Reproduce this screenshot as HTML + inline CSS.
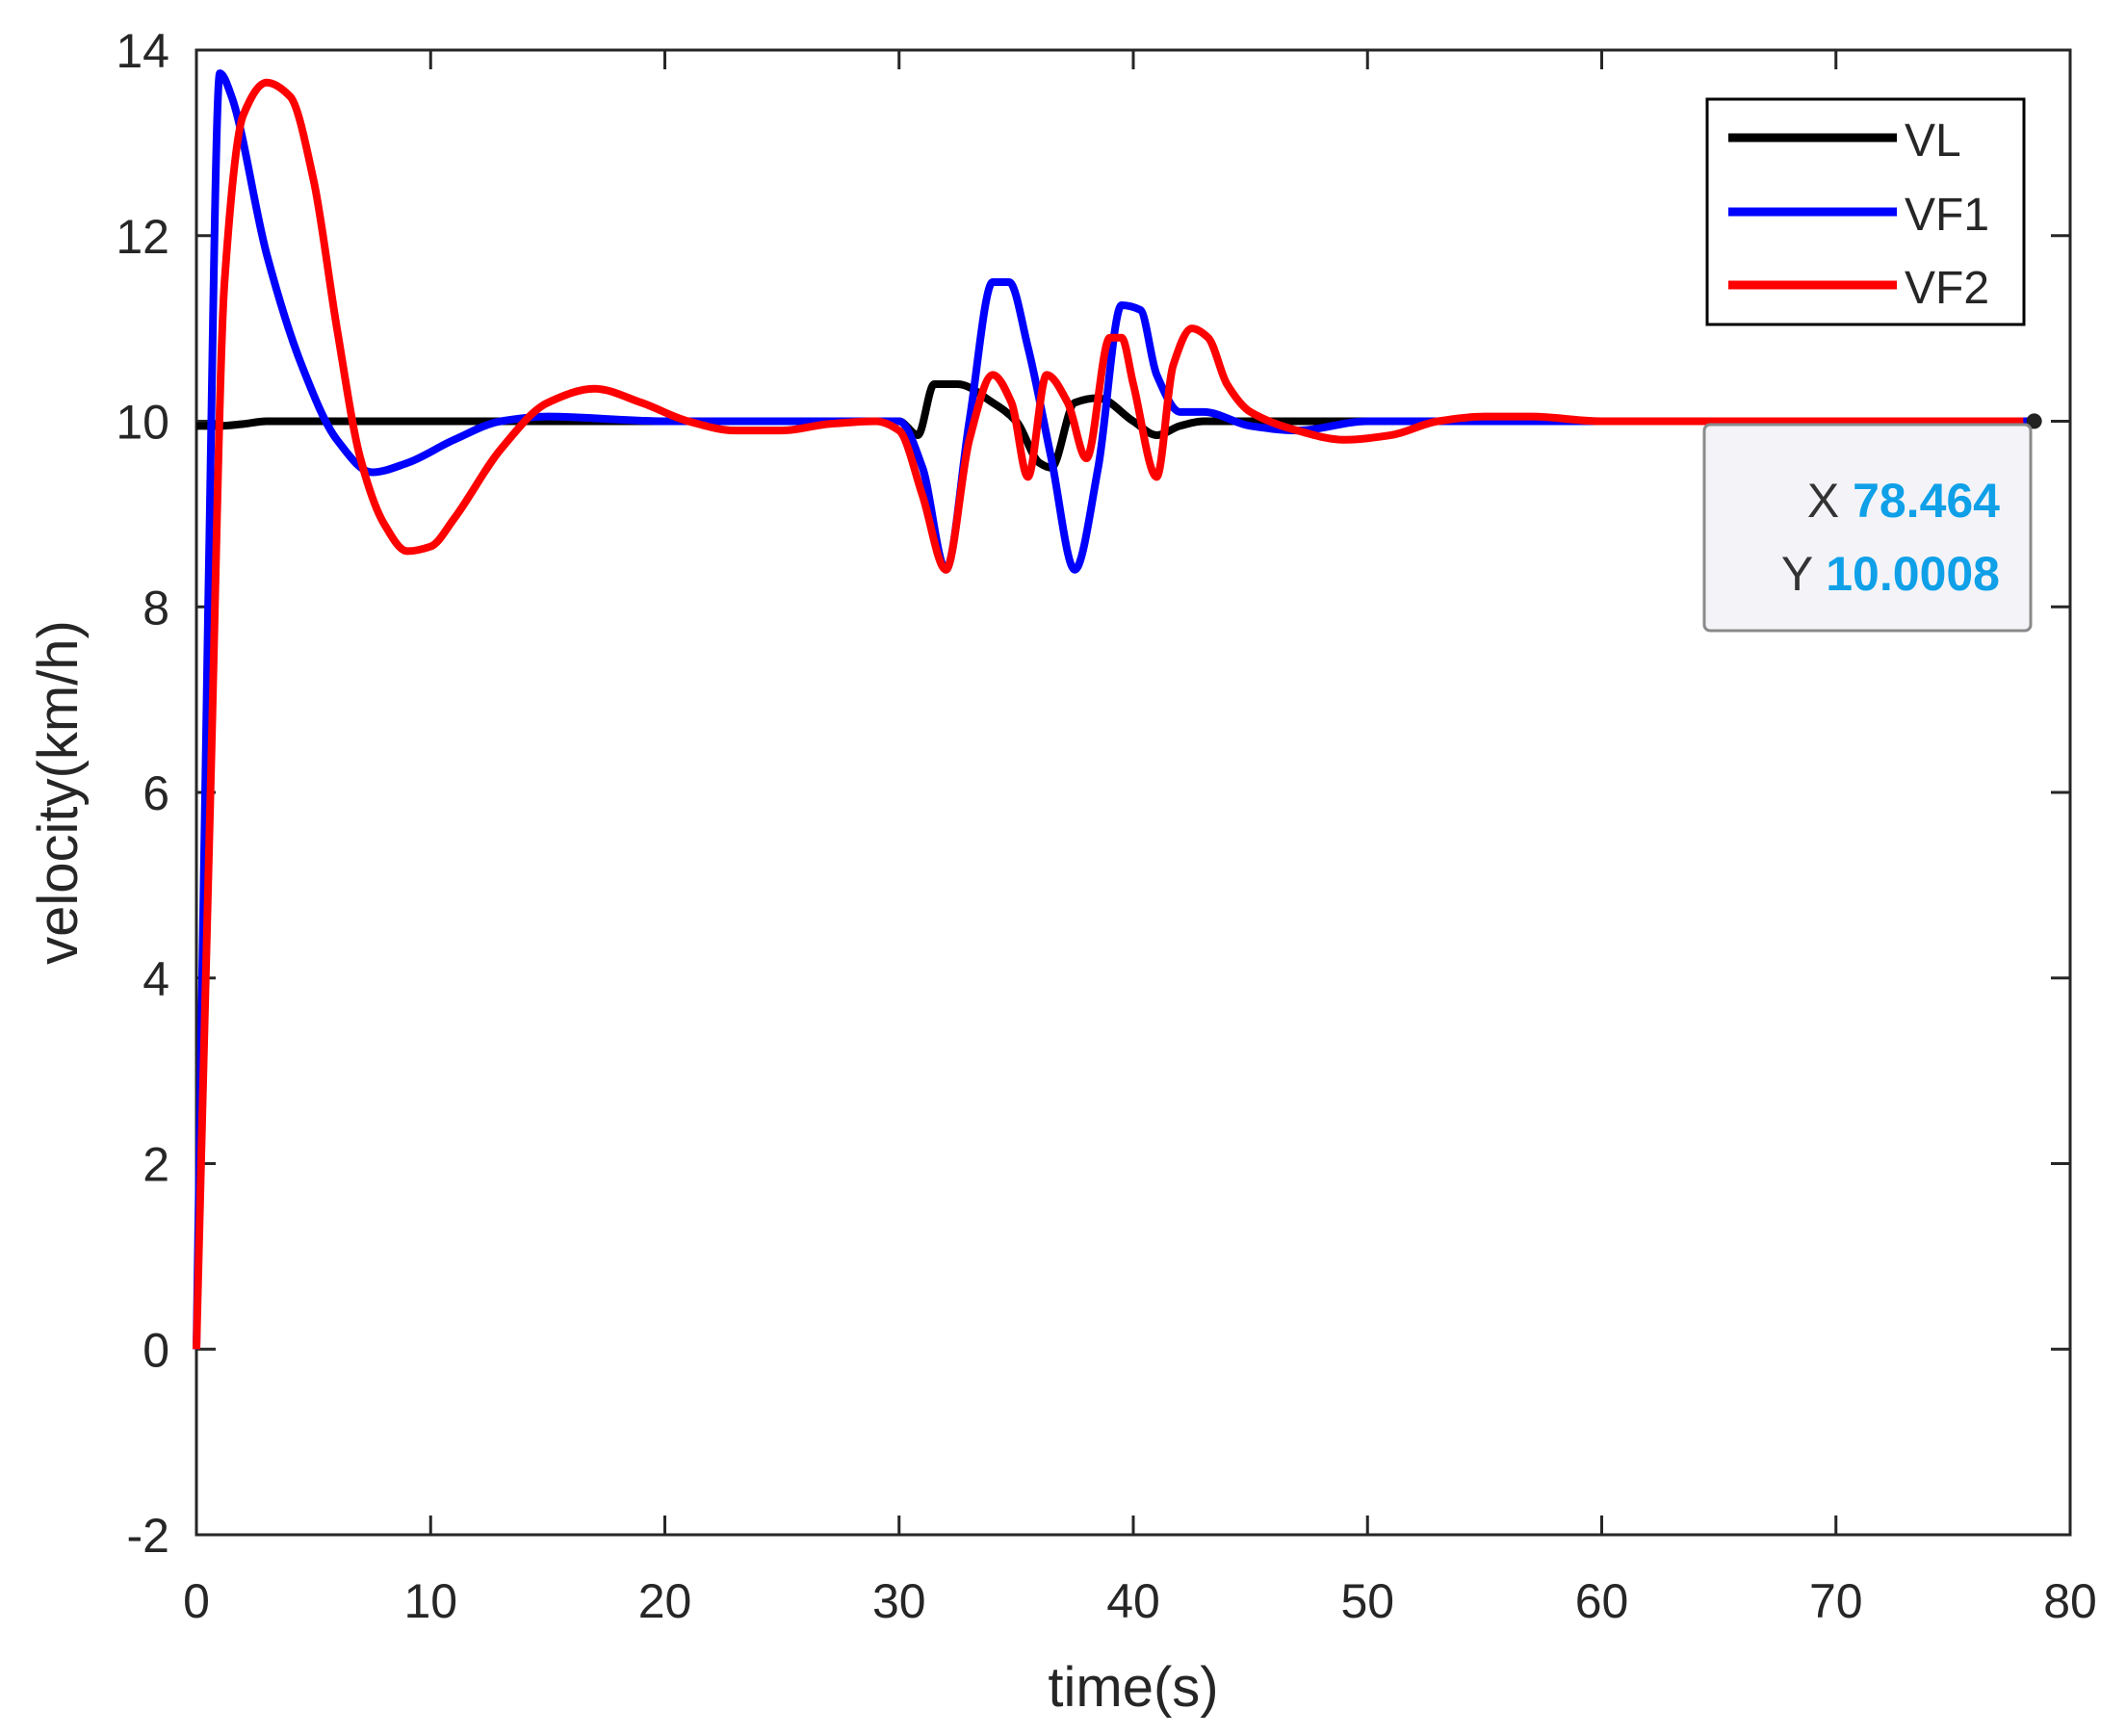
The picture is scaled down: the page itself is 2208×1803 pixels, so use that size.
<!DOCTYPE html>
<html><head><meta charset="utf-8"><style>
html,body{margin:0;padding:0;background:#fff;}
svg text{font-family:"Liberation Sans",sans-serif;}
</style></head><body>
<svg id="chart" width="2208" height="1798" viewBox="0 0 2208 1798">
<rect x="204" y="52" width="1946" height="1542" fill="#fff" stroke="#262626" stroke-width="3"/>
<g id="ticks"></g>
<g id="series"></g>
<text x="1177" y="1772" font-size="58" text-anchor="middle" fill="#262626">time(s)</text>
<text transform="translate(80,823) rotate(-90)" font-size="58" text-anchor="middle" fill="#262626">velocity(km/h)</text>
<g>
<rect x="1773" y="103" width="329" height="234" fill="#fff" stroke="#000" stroke-width="3"/>
<line x1="1795" y1="143" x2="1970" y2="143" stroke="#000" stroke-width="9"/>
<text x="1978" y="162" font-size="48" fill="#262626">VL</text>
<line x1="1795" y1="220" x2="1970" y2="220" stroke="#0000ff" stroke-width="9"/>
<text x="1978" y="239" font-size="48" fill="#262626">VF1</text>
<line x1="1795" y1="296" x2="1970" y2="296" stroke="#ff0000" stroke-width="9"/>
<text x="1978" y="315" font-size="48" fill="#262626">VF2</text>
</g>
<g>
<rect x="1770" y="441" width="339" height="214" rx="6" fill="#f4f4f8" stroke="#8a8a8a" stroke-width="3"/>
<text x="2077" y="537" font-size="50" text-anchor="end"><tspan fill="#333">X </tspan><tspan fill="#0fa0e8" font-weight="bold">78.464</tspan></text>
<text x="2077" y="613" font-size="50" text-anchor="end"><tspan fill="#333">Y </tspan><tspan fill="#0fa0e8" font-weight="bold">10.0008</tspan></text>
</g>
</svg>
<script>
const xTicks=[0,10,20,30,40,50,60,70,80];
const yTicks=[-2,0,2,4,6,8,10,12,14];
const tVL=[0,1,2,3,5,10,20,30,30.8,31.5,32.5,34,35,36,36.5,37.5,38.5,40,41,42,43,50,60,78.5];
const vVL=[9.95,9.95,9.97,10,10,10,10,10,9.85,10.4,10.4,10.2,10,9.55,9.5,10.2,10.25,10,9.85,9.95,10,10,10,10];
const tVF1=[0,0.5,1,1.5,3,4.5,6,7.5,9,11,13,15,20,30,31,32,33,34,34.7,35.5,36.5,37.5,38.5,39.5,40.3,41,42,43,45,47,50,55,78.5];
const vVF1=[0,8,13.75,13.5,11.8,10.6,9.8,9.45,9.55,9.8,10,10.05,10,10,9.5,8.4,10,11.5,11.5,10.8,9.6,8.4,9.5,11.25,11.2,10.5,10.1,10.1,9.95,9.9,10,10,10];
const tVF2=[0,0.6,1.2,2,3,4,5,6,7,8,9,10,11,13,15,17,19,21,23,25,27,29,30,31,32,33,34,34.8,35.5,36.3,37.2,38,39,39.5,40,41,41.7,42.5,43.2,44,45,47,49,51,53,55,57,60,78];
const vVF2=[0,6,11.5,13.3,13.65,13.5,12.6,11,9.6,8.9,8.6,8.65,8.95,9.7,10.2,10.35,10.2,10,9.9,9.9,9.97,10,9.9,9.2,8.4,9.8,10.5,10.2,9.4,10.5,10.2,9.6,10.9,10.9,10.4,9.4,10.6,11,10.9,10.4,10.1,9.9,9.8,9.85,10,10.05,10.05,10,10];
const X0=204,X1=2150,Y0=1594,Y1=52;
function sx(t){return X0+(t-0)/(80-0)*(X1-X0);}
function sy(v){return Y0-(v+2)/16*(Y0-Y1);}
const NS="http://www.w3.org/2000/svg";
const tg=document.getElementById('ticks');
xTicks.forEach(t=>{
 const x=sx(t);
 const l=document.createElementNS(NS,'path');
 l.setAttribute('d',`M${x},${Y0}v-20M${x},${Y1}v20`);
 l.setAttribute('stroke','#262626');l.setAttribute('stroke-width','3');
 
 
 tg.appendChild(l);
 const tx=document.createElementNS(NS,'text');
 tx.setAttribute('x',x);tx.setAttribute('y',1680);tx.setAttribute('font-size','50');
 tx.setAttribute('text-anchor','middle');tx.setAttribute('fill','#262626');
 tx.textContent=t;
 
 
 tg.appendChild(tx);
});
yTicks.forEach(v=>{
 const y=sy(v);
 const l=document.createElementNS(NS,'path');
 l.setAttribute('d',`M${X0},${y}h20M${X1},${y}h-20`);
 l.setAttribute('stroke','#262626');l.setAttribute('stroke-width','3');
 
 
 tg.appendChild(l);
 const tx=document.createElementNS(NS,'text');
 tx.setAttribute('x',176);tx.setAttribute('y',y+18);tx.setAttribute('font-size','50');
 tx.setAttribute('text-anchor','end');tx.setAttribute('fill','#262626');
 tx.textContent=v;
 
 
 tg.appendChild(tx);
});
function monotone(ts,vs){
 const p=ts.map((t,i)=>[sx(t),sy(vs[i])]);
 const n=p.length,dl=[],m=[];
 for(let i=0;i<n-1;i++)dl.push((p[i+1][1]-p[i][1])/(p[i+1][0]-p[i][0]));
 m[0]=dl[0];m[n-1]=dl[n-2];
 for(let i=1;i<n-1;i++){m[i]=(dl[i-1]*dl[i]<=0)?0:2/(1/dl[i-1]+1/dl[i]);}
 let d=`M${p[0][0]},${p[0][1]}`;
 for(let i=0;i<n-1;i++){
  const h=(p[i+1][0]-p[i][0])/3;
  d+=`C${p[i][0]+h},${p[i][1]+m[i]*h} ${p[i+1][0]-h},${p[i+1][1]-m[i+1]*h} ${p[i+1][0]},${p[i+1][1]}`;
 }
 return d;
}
const sg=document.getElementById('series');
[[tVL,vVL,'#000','series-vl'],[tVF1,vVF1,'#0000ff','series-vf1'],[tVF2,vVF2,'#ff0000','series-vf2']].forEach(s=>{
 const p=document.createElementNS(NS,'path');
 p.setAttribute('d',monotone(s[0],s[1]));
 p.setAttribute('fill','none');p.setAttribute('stroke',s[2]);p.setAttribute('stroke-width','8');
 p.setAttribute('stroke-linejoin','round');
 
 
 sg.appendChild(p);
});
const m=document.createElementNS(NS,'circle');
m.setAttribute('cx',sx(78.464));m.setAttribute('cy',sy(10.0008));m.setAttribute('r','8');m.setAttribute('fill','#222');


sg.appendChild(m);
</script>
</body></html>
